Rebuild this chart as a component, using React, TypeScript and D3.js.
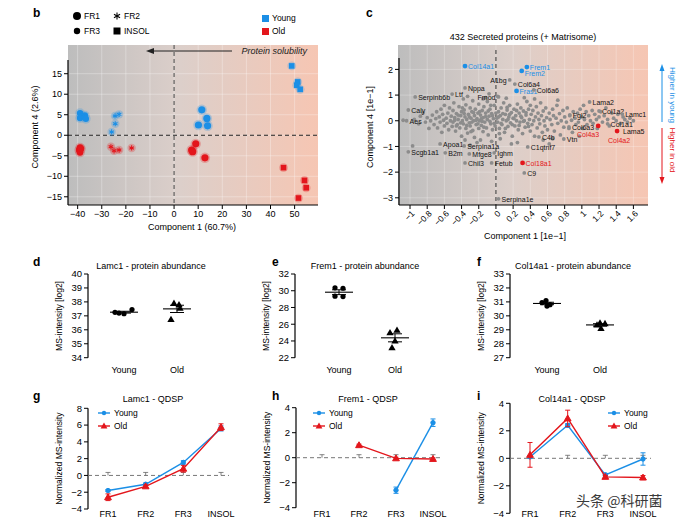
import React from 'react';
import * as d3 from 'd3';

const FONT = '"Liberation Sans", Arial, Helvetica, sans-serif';
const BLUE = '#1b8fe6';
const RED = '#e3161c';
const GRAYPT = '#8c8c8c';
const fmtMinus = (v: number | string) => String(v).replace('-', '\u2212');

// ---------------- Panel b data ----------------
const bXTicks = [-40, -30, -20, -10, 0, 10, 20, 30, 40, 50];
const bYTicks = [-15, -10, -5, 0, 5, 10, 15];
const bYoungFR1 = [[-39, 5.4], [-37, 4.8], [-39, 4.2], [-36.6, 4.0]];
const bOldFR1 = [[-39, -3.0], [-39.4, -3.6], [-39, -4.2], [-38.6, -3.3]];
const bYoungFR2 = [[-24.5, 4.7], [-22.8, 5.1], [-24.4, 2.8], [-25.9, 0.8]];
const bOldFR2 = [[-26.2, -2.8], [-24.9, -3.8], [-22.8, -3.6], [-17.6, -3.1]];
const bYoungFR3 = [[11.5, 6.2], [13.6, 4.1], [10.1, 2.5], [13.9, 2.3]];
const bOldFR3 = [[9, -2.1], [7.3, -3.6], [7.7, -4.0], [12.8, -5.5]];
const bYoungINSOL = [[48.8, 16.9], [51.3, 13.0], [50.9, 12.2], [52.3, 11.2]];
const bOldINSOL = [[45.4, -7.9], [54.1, -11.0], [54.8, -12.8], [51.6, -15.3]];

// ---------------- Panel c data ----------------
const cXTicks = [-1, -0.8, -0.6, -0.4, -0.2, 0, 0.2, 0.4, 0.6, 0.8, 1, 1.2, 1.4, 1.6];
const cYTicks = [-3, -2, -1, 0, 1, 2];
const cCloud: number[][] = [
  [-1.08, 0.02], [-0.95, 0.05], [-0.9, -0.12], [-0.88, 0.18], [-0.85, 0.3], [-0.82, -0.05], [-0.8, 0.12], [-0.97, -0.98], [-0.78, -0.3],
  [-0.76, 0.0], [-0.74, 0.22], [-0.72, -0.15], [-0.7, 0.08], [-0.69, 0.35], [-0.68, -0.28], [-0.66, 0.15], [-0.65, -0.05], [-0.64, 0.45],
  [-0.63, -0.45], [-0.62, 0.25], [-0.61, 0.02], [-0.6, -0.2], [-0.6, 0.6],
  [-0.58, 0.1], [-0.57, -0.1], [-0.56, 0.3], [-0.55, -0.35], [-0.54, 0.5], [-0.53, 0.0], [-0.52, 0.18], [-0.51, -0.22], [-0.5, 0.4],
  [-0.5, -0.05], [-0.49, 0.7], [-0.48, 0.12], [-0.47, -0.4], [-0.46, 0.28], [-0.45, -0.15], [-0.44, 0.05], [-0.43, 0.55], [-0.42, -0.28],
  [-0.41, 0.2], [-0.4, -0.6], [-0.4, 0.35],
  [-0.39, 0.0], [-0.38, -0.12], [-0.37, 0.42], [-0.36, 0.15], [-0.35, -0.3], [-0.35, 0.62], [-0.34, 0.05], [-0.33, -0.48], [-0.32, 0.25],
  [-0.31, -0.08], [-0.3, 0.5], [-0.3, -0.2], [-0.29, 0.1], [-0.28, 0.35], [-0.27, -0.38], [-0.26, 0.0], [-0.25, 0.2], [-0.25, -0.65],
  [-0.24, 0.45], [-0.23, -0.15], [-0.22, 0.08], [-0.21, 0.3], [-0.2, -0.3], [-0.2, 0.65], [-0.38, 0.85], [-0.33, 0.95], [-0.27, 0.78],
  [-0.22, -0.85], [-0.36, -0.75], [-0.3, -0.95],
  [-0.19, 0.0], [-0.18, 0.22], [-0.17, -0.18], [-0.16, 0.4], [-0.15, -0.42], [-0.15, 0.12], [-0.14, 0.55], [-0.13, -0.05], [-0.12, 0.3],
  [-0.11, -0.28], [-0.1, 0.05], [-0.1, 0.75], [-0.09, -0.55], [-0.08, 0.18], [-0.07, 0.45], [-0.06, -0.12], [-0.05, 0.28], [-0.04, -0.35],
  [-0.03, 0.08], [-0.02, 0.6], [-0.01, -0.2], [-0.18, -0.75], [-0.12, 0.9], [-0.05, -0.8], [-0.15, 0.85], [-0.08, 1.05],
  [0.01, 0.1], [0.02, -0.05], [0.03, 0.35], [0.04, -0.3], [0.05, 0.2], [0.06, 0.5], [0.07, -0.15], [0.08, 0.05], [0.09, 0.7], [0.1, -0.45],
  [0.11, 0.25], [0.12, 0.0], [0.13, 0.42], [0.14, -0.22], [0.15, 0.15], [0.16, 0.6], [0.17, -0.08], [0.18, 0.32], [0.19, -0.6], [0.2, 0.1],
  [0.05, -0.7], [0.12, 0.88], [0.18, -0.9], [0.02, 0.95],
  [0.21, 0.45], [0.22, -0.2], [0.23, 0.2], [0.24, 0.0], [0.25, 0.65], [0.26, -0.35], [0.27, 0.3], [0.28, -0.05], [0.29, 0.5], [0.3, 0.12],
  [0.31, -0.5], [0.32, 0.38], [0.33, 0.0], [0.34, -0.25], [0.35, 0.22], [0.36, 0.75], [0.37, -0.1], [0.38, 0.45], [0.39, 0.05], [0.4, -0.4],
  [0.25, -0.85], [0.33, 0.9], [0.4, 0.6],
  [0.41, 0.25], [0.42, -0.15], [0.43, 0.4], [0.44, 0.0], [0.45, -0.6], [0.46, 0.15], [0.47, 0.55], [0.48, -0.28], [0.49, 0.3], [0.5, 0.05],
  [0.51, -0.12], [0.52, 0.7], [0.53, 0.2], [0.54, -0.45], [0.55, 0.38], [0.56, 0.0], [0.57, -0.2], [0.58, 0.5], [0.59, 0.12], [0.6, -0.35],
  [0.45, 0.85], [0.55, -0.75], [0.62, -0.9],
  [0.62, 0.3], [0.63, 0.05], [0.65, -0.15], [0.66, 0.45], [0.67, 0.2], [0.68, -0.4], [0.7, 0.1], [0.71, 0.6], [0.72, -0.1], [0.74, 0.28],
  [0.75, -0.55], [0.76, 0.0], [0.78, 0.4], [0.79, -0.25], [0.8, 0.15], [0.82, -0.05], [0.83, 0.5], [0.85, -0.3], [0.86, 0.2], [0.88, 0.02],
  [0.89, -0.45], [0.9, 0.35], [0.72, 0.8], [0.66, -0.7],
  [0.92, 0.1], [0.93, -0.15], [0.95, 0.3], [0.96, -0.05], [0.98, 0.45], [1.0, 0.15], [1.01, -0.3], [1.03, 0.05], [1.05, 0.35], [1.06, -0.15],
  [1.08, 0.2], [1.1, 0.0], [1.12, 0.4], [1.13, -0.1], [1.15, 0.25], [1.17, 0.05], [1.18, -0.3], [1.2, 0.15], [1.02, 0.6], [0.97, -0.6],
  [1.22, 0.35], [1.24, -0.05], [1.26, 0.2], [1.28, 0.5], [1.3, 0.05], [1.32, -0.2], [1.35, 0.3], [1.37, 0.1], [1.4, 0.0], [1.42, 0.25],
  [1.45, -0.1], [1.48, 0.15], [1.5, 0.05], [1.53, -0.05], [1.56, 0.1], [1.6, 0.0],
  [-0.48, 0.02], [-0.44, 0.22], [-0.41, -0.08], [-0.37, 0.28], [-0.34, -0.18], [-0.31, 0.15], [-0.28, -0.05], [-0.26, 0.32], [-0.23, 0.02],
  [-0.21, -0.12], [-0.19, 0.35], [-0.17, 0.08], [-0.14, -0.25], [-0.12, 0.16], [-0.09, 0.38], [-0.07, -0.02], [-0.04, 0.2], [-0.02, -0.1],
  [0.0, 0.3], [0.03, 0.15], [0.06, -0.1], [0.08, 0.28], [0.11, -0.3], [0.14, 0.05], [0.16, 0.25], [0.19, -0.15], [0.21, 0.08], [0.24, 0.4],
  [0.27, -0.18], [0.29, 0.18], [0.32, -0.02], [0.35, 0.32], [0.38, -0.22], [-0.46, -0.2], [-0.39, 0.5], [-0.29, -0.42], [-0.16, -0.02],
  [-0.06, 0.6], [0.04, -0.5], [0.13, 0.52],
];
// [name, x, y, group]
const cLabels: [string, number, number, string][] = [
  ['Col14a1', -0.36, 2.13, 'young'], ['Frem1', 0.36, 2.09, 'young'], ['Frem2', 0.30, 1.94, 'young'], ['Fras1', 0.24, 1.16, 'young'],
  ['A1bg', 0.16, 1.59, 'ns'], ['Col6a4', 0.22, 1.43, 'ns'], ['Col6a6', 0.44, 1.20, 'ns'], ['Nppa', -0.36, 1.28, 'ns'],
  ['Ltf', -0.51, 1.04, 'ns'], ['Serpinb6b', -0.94, 0.93, 'ns'], ['Fmod', 0.03, 0.93, 'ns'], ['Caly', -1.02, 0.42, 'ns'],
  ['Aes', -1.04, 0.0, 'ns'], ['Scgb1a1', -1.02, -1.21, 'ns'], ['Apoa1', -0.65, -0.9, 'ns'], ['B2m', -0.59, -1.25, 'ns'],
  ['Serpina1a', -0.37, -0.98, 'ns'], ['Mfge8', -0.31, -1.29, 'ns'], ['Ighm', -0.02, -1.25, 'ns'], ['Chil3', -0.36, -1.64, 'ns'],
  ['Fetub', -0.05, -1.64, 'ns'], ['C9', 0.33, -2.03, 'ns'], ['Serpina1e', 0.03, -3.04, 'ns'], ['C4b', 0.5, -0.63, 'ns'],
  ['C1qtnf7', 0.37, -1.02, 'ns'], ['Vtn', 0.79, -0.71, 'ns'], ['Lama2', 1.09, 0.73, 'ns'], ['Col1a2', 1.2, 0.38, 'ns'],
  ['Lamc1', 1.47, 0.26, 'ns'], ['Fgl2', 0.86, 0.23, 'ns'], ['Col6a3', 0.85, -0.24, 'ns'], ['Col1a1', 1.3, -0.12, 'ns'],
  ['Lama5', 1.41, -0.4, 'ns'], ['Col4a3', 1.19, -0.2, 'old'], ['Col4a2', 1.41, -0.4, 'old'], ['Col18a1', 0.31, -1.64, 'old'],
];
const cLabelLayout: Record<string, [number, number, string]> = {
  A1bg: [-3, 3, 'end'], Fmod: [-3, 3, 'end'], Col4a3: [1, 11, 'end'], Col4a2: [2, 12, 'middle'], Frem2: [3, 5, 'start'], Lama5: [6, 3, 'start'],
};

// ---------------- Panels d-f data ----------------
const abCats = ['Young', 'Old'];
const lamc1Young = [37.25, 37.2, 37.15, 37.45];
const lamc1Old = [37.9, 37.8, 37.55, 36.75];
const frem1Young = [30.35, 30.3, 29.35, 29.3];
const frem1Old = [25.3, 25.0, 24.0, 23.2];
const col14Young = [31.1, 30.95, 30.8, 30.7];
const col14Old = [29.5, 29.45, 29.35, 29.1];
const dTicks = [34, 35, 36, 37, 38, 39, 40];
const eTicks = [22, 24, 26, 28, 30, 32];
const fTicks = [27, 28, 29, 30, 31, 32, 33];

// ---------------- Panels g-i data ----------------
const qCats = ['FR1', 'FR2', 'FR3', 'INSOL'];
const gYoung = [-1.8, -1.05, 1.55, 5.6];
const gYoungErr = [0.12, 0.15, 0.2, 0.3];
const gOld = [-2.6, -1.3, 0.8, 5.75];
const gOldErr = [0.4, 0.15, 0.4, 0.4];
const hYoung = [null, null, -2.6, 2.8];
const hYoungErr = [0, 0, 0.25, 0.3];
const hOld = [null, 1.0, -0.05, -0.1];
const hOldErr = [0, 0.08, 0.08, 0.08];
const iYoung = [0.1, 2.4, -1.2, -0.05];
const iYoungErr = [0.1, 0.12, 0.1, 0.45];
const iOld = [0.25, 2.9, -1.35, -1.4];
const iOldErr = [0.9, 0.6, 0.1, 0.15];
const gTicks = [-4, -2, 0, 2, 4, 6, 8];
const hTicks = [-4, -2, 0, 2, 4];
const iTicks = [-4, -2, 0, 2, 4];

// ---------------- helpers ----------------
function YAxis({ scale, ticks, x, fs = 9, top, bottom }: any) {
  const t0 = top ?? scale(d3.max(ticks as number[]));
  const t1 = bottom ?? scale(d3.min(ticks as number[]));
  return (
    <g>
      <line x1={x} x2={x} y1={t0} y2={t1} stroke="#000" strokeWidth={1.2} />
      {ticks.map((t: number) => (
        <g key={t}>
          <line x1={x - 4} x2={x} y1={scale(t)} y2={scale(t)} stroke="#000" strokeWidth={1} />
          <text x={x - 6} y={scale(t)} dy="0.35em" textAnchor="end" fontSize={fs}>{fmtMinus(t)}</text>
        </g>
      ))}
    </g>
  );
}

function Marker({ shape, cx, cy, color, size = 3 }: any) {
  if (shape === 'circle') return <circle cx={cx} cy={cy} r={size} fill={color} />;
  if (shape === 'square') return <rect x={cx - size} y={cy - size} width={size * 2} height={size * 2} fill={color} />;
  if (shape === 'triangle') {
    const p = d3.symbol(d3.symbolTriangle, size * size * 3.2)();
    return <path d={p as string} transform={`translate(${cx},${cy + size * 0.2})`} fill={color} />;
  }
  if (shape === 'asterisk') {
    const a = [0, 60, 120];
    return (
      <g transform={`translate(${cx},${cy})`} stroke={color} strokeWidth={1.1}>
        {a.map((ang) => {
          const r = (ang * Math.PI) / 180;
          return <line key={ang} x1={-size * Math.sin(r)} y1={-size * Math.cos(r)} x2={size * Math.sin(r)} y2={size * Math.cos(r)} />;
        })}
      </g>
    );
  }
  return null;
}

function PanelB() {
  const x = d3.scaleLinear().domain([-44, 59.7]).range([68, 318]);
  const y = d3.scaleLinear().domain([-17, 22]).range([205, 45]);
  const groups: [number[][], string, string, number][] = [
    [bYoungFR1, 'circle', BLUE, 3.2], [bOldFR1, 'circle', RED, 3.2],
    [bYoungFR2, 'asterisk', BLUE, 2.6], [bOldFR2, 'asterisk', RED, 2.6],
    [bYoungFR3, 'circle', BLUE, 3.6], [bOldFR3, 'circle', RED, 3.6],
    [bYoungINSOL, 'square', BLUE, 2.8], [bOldINSOL, 'square', RED, 2.8],
  ];
  return (
    <g>
      <text x={33} y={17} fontSize={12} fontWeight="bold">b</text>
      <circle cx={77} cy={16} r={4} fill="#000" />
      <text x={84} y={16} dy="0.35em" fontSize={8.5}>FR1</text>
      <Marker shape="asterisk" cx={117} cy={16} color="#000" size={3.5} />
      <text x={124} y={16} dy="0.35em" fontSize={8.5}>FR2</text>
      <circle cx={77} cy={31} r={3.2} fill="#000" />
      <text x={84} y={31} dy="0.35em" fontSize={8.5}>FR3</text>
      <rect x={113.5} y={27.5} width={7} height={7} fill="#000" />
      <text x={124} y={31} dy="0.35em" fontSize={8.5}>INSOL</text>
      <rect x={262} y={15} width={7} height={7} fill={BLUE} />
      <text x={272} y={18.5} dy="0.35em" fontSize={8.5}>Young</text>
      <rect x={262} y={28} width={7} height={7} fill={RED} />
      <text x={272} y={31.5} dy="0.35em" fontSize={8.5}>Old</text>
      <rect x={68} y={45} width={250} height={160} fill="url(#bgGrad)" />
      {bXTicks.map((t) => (
        <line key={'gx' + t} x1={x(t)} x2={x(t)} y1={45} y2={205} stroke="#fff" strokeOpacity={0.3} />
      ))}
      {bYTicks.map((t) => (
        <line key={'gy' + t} x1={68} x2={318} y1={y(t)} y2={y(t)} stroke="#fff" strokeOpacity={0.3} />
      ))}
      <line x1={68} x2={318} y1={y(0)} y2={y(0)} stroke="#222" strokeDasharray="4,3" />
      <line x1={x(0)} x2={x(0)} y1={45} y2={205} stroke="#444" strokeDasharray="4,3" />
      <line x1={232} x2={152} y1={51} y2={51} stroke="#222" strokeWidth={1.2} />
      <path d="M146,51 L154,48 L154,54 Z" fill="#222" />
      <text x={307} y={51} dy="0.35em" textAnchor="end" fontSize={9} fontStyle="italic" fill="#222">Protein solubility</text>
      {groups.map(([pts, shape, color, s], gi) => (
        <g key={gi}>
          {pts.map((p, i) => (
            <g key={i}>
              <circle cx={x(p[0])} cy={y(p[1])} r={s + 1.6} fill={color} opacity={0.25} />
              <Marker shape={shape} cx={x(p[0])} cy={y(p[1])} color={color} size={s} />
            </g>
          ))}
        </g>
      ))}
      <YAxis scale={y} ticks={bYTicks} x={68} top={60} bottom={205} />
      <line x1={68} x2={318} y1={205} y2={205} stroke="#000" strokeWidth={1.2} />
      {bXTicks.map((t) => (
        <g key={'xt' + t}>
          <line x1={x(t)} x2={x(t)} y1={205} y2={209} stroke="#000" />
          <text x={x(t)} y={217} textAnchor="middle" fontSize={9}>{fmtMinus(t)}</text>
        </g>
      ))}
      <text x={192} y={230} textAnchor="middle" fontSize={9}>Component 1 (60.7%)</text>
      <text transform="translate(38,127) rotate(-90)" textAnchor="middle" fontSize={9}>Component 4 (2.6%)</text>
    </g>
  );
}

function PanelC() {
  const x = d3.scaleLinear().domain([-1.14, 1.77]).range([398, 648]);
  const y = d3.scaleLinear().domain([-3.28, 2.95]).range([205, 45]);
  const colorOf = (g: string) => (g === 'young' ? BLUE : g === 'old' ? RED : '#111');
  return (
    <g>
      <text x={366} y={17} fontSize={12} fontWeight="bold">c</text>
      <text x={523} y={40} textAnchor="middle" fontSize={9}>432 Secreted proteins (+ Matrisome)</text>
      <rect x={398} y={45} width={250} height={160} fill="url(#bgGrad)" />
      {cXTicks.map((t) => (
        <line key={'gx' + t} x1={x(t)} x2={x(t)} y1={45} y2={205} stroke="#fff" strokeOpacity={0.25} />
      ))}
      {cYTicks.map((t) => (
        <line key={'gy' + t} x1={398} x2={648} y1={y(t)} y2={y(t)} stroke="#fff" strokeOpacity={0.25} />
      ))}
      <line x1={x(0)} x2={x(0)} y1={50} y2={205} stroke="#333" strokeDasharray="4,3" />
      {cCloud.map((p, i) => (
        <circle key={i} cx={x(p[0])} cy={y(p[1])} r={1.9} fill={GRAYPT} />
      ))}
      {cLabels.map(([name, px, py, g]) => {
        const lay = cLabelLayout[name] || [3, 3, 'start'];
        const col = colorOf(g);
        const r = g === 'ns' ? 1.9 : 2.4;
        return (
          <g key={name}>
            <circle cx={x(px)} cy={y(py)} r={r} fill={g === 'ns' ? GRAYPT : col} />
            <text x={x(px) + lay[0]} y={y(py) + lay[1]} textAnchor={lay[2] as any} fontSize={7} fill={col}>{name}</text>
          </g>
        );
      })}
      <YAxis scale={y} ticks={cYTicks} x={399} top={58} bottom={205} />
      <line x1={399} x2={648} y1={205} y2={205} stroke="#000" strokeWidth={1.2} />
      {cXTicks.map((t) => (
        <g key={'xt' + t}>
          <line x1={x(t)} x2={x(t)} y1={205} y2={209} stroke="#000" />
          <text transform={`translate(${x(t) + 3},${212}) rotate(-45)`} textAnchor="end" dy="0.35em" fontSize={8.5}>{fmtMinus(t)}</text>
        </g>
      ))}
      <text x={525} y={239} textAnchor="middle" fontSize={9}>Component 1 [1e{'\u2212'}1]</text>
      <text transform="translate(373,127) rotate(-90)" textAnchor="middle" fontSize={9}>Component 4 [1e{'\u2212'}1]</text>
      <line x1={662} x2={662} y1={122} y2={70} stroke={BLUE} strokeWidth={1} />
      <path d="M662,64 L659.5,71 L664.5,71 Z" fill={BLUE} />
      <text transform="translate(673,95) rotate(90)" textAnchor="middle" dy="0.35em" fontSize={8} fill={BLUE}>Higher in young</text>
      <line x1={662} x2={662} y1={128} y2={178} stroke={RED} strokeWidth={1} />
      <path d="M662,184 L659.5,177 L664.5,177 Z" fill={RED} />
      <text transform="translate(673,150) rotate(90)" textAnchor="middle" dy="0.35em" fontSize={8} fill={RED}>Higher in old</text>
    </g>
  );
}

function AbundancePanel({ letter, letterX, title, titleX, axisX, catX, domain, ticks, young, old, offY, offO }: any) {
  const y = d3.scaleLinear().domain(domain).range([357.7, 274]);
  const xc = d3.scalePoint().domain(abCats).range(catX);
  const series = [[young, 'circle', offY], [old, 'triangle', offO]];
  return (
    <g>
      <text x={letterX} y={266} fontSize={12} fontWeight="bold">{letter}</text>
      <text x={titleX} y={269} textAnchor="middle" fontSize={9}>{title}</text>
      <YAxis scale={y} ticks={ticks} x={axisX} fs={9.5} />
      <text transform={`translate(${axisX - 26},316) rotate(-90)`} textAnchor="middle" fontSize={8.5}>MS-intensity [log2]</text>
      {series.map(([vals, shape, offs]: any, si) => {
        const cx = xc(abCats[si]) as number;
        const m = d3.mean(vals as number[]) as number;
        const sem = (d3.deviation(vals as number[]) as number) / Math.sqrt(vals.length);
        return (
          <g key={si}>
            {vals.map((v: number, i: number) => (
              <Marker key={i} shape={shape} cx={cx + offs[i]} cy={y(v)} color="#000" size={shape === 'circle' ? 2.6 : 2.7} />
            ))}
            <line x1={cx - 14} x2={cx + 14} y1={y(m)} y2={y(m)} stroke="#000" strokeWidth={1.1} />
            <line x1={cx} x2={cx} y1={y(m + sem)} y2={y(m - sem)} stroke="#000" strokeWidth={1} />
            <line x1={cx - 7} x2={cx + 7} y1={y(m + sem)} y2={y(m + sem)} stroke="#000" strokeWidth={1} />
            <line x1={cx - 7} x2={cx + 7} y1={y(m - sem)} y2={y(m - sem)} stroke="#000" strokeWidth={1} />
            <text x={cx} y={373} textAnchor="middle" fontSize={9}>{abCats[si]}</text>
          </g>
        );
      })}
    </g>
  );
}

function QdspPanel({ letter, letterX, title, titleX, axisX, catRange, yRange, domain, ticks, young, youngErr, old, oldErr, legendX }: any) {
  const y = d3.scaleLinear().domain(domain).range(yRange);
  const xc = d3.scalePoint().domain(qCats).range(catRange);
  const line = d3.line<any>().defined((d) => d.v !== null).x((d) => xc(d.c) as number).y((d) => y(d.v));
  const mk = (vals: any[], errs: number[]) => vals.map((v, i) => ({ c: qCats[i], v, e: errs[i] }));
  const series = [
    { data: mk(young, youngErr), color: BLUE, shape: 'circle', name: 'Young' },
    { data: mk(old, oldErr), color: RED, shape: 'triangle', name: 'Old' },
  ];
  const y0 = y(0);
  const xEnd = (xc('INSOL') as number) + 8;
  return (
    <g>
      <text x={letterX} y={400} fontSize={12} fontWeight="bold">{letter}</text>
      <text x={titleX} y={402} textAnchor="middle" fontSize={9}>{title}</text>
      <YAxis scale={y} ticks={ticks} x={axisX} fs={9.5} />
      <text transform={`translate(${axisX - 26},${(yRange[0] + yRange[1]) / 2}) rotate(-90)`} textAnchor="middle" fontSize={8.5}>Normalized MS-intensity</text>
      <line x1={axisX} x2={xEnd} y1={y0} y2={y0} stroke="#777" strokeDasharray="4,3" strokeWidth={1} />
      {qCats.map((c) => (
        <g key={'t' + c} stroke="#666" strokeWidth={0.8}>
          <line x1={(xc(c) as number) - 2.5} x2={(xc(c) as number) + 2.5} y1={y0 - 3} y2={y0 - 3} />
          <line x1={xc(c) as number} x2={xc(c) as number} y1={y0 - 3} y2={y0} />
        </g>
      ))}
      {series.map((s) => (
        <g key={s.name}>
          <path d={line(s.data) as string} fill="none" stroke={s.color} strokeWidth={1.4} />
          {s.data.filter((d) => d.v !== null).map((d) => {
            const cx = xc(d.c) as number;
            return (
              <g key={d.c} stroke={s.color} strokeWidth={1}>
                <line x1={cx} x2={cx} y1={y(d.v + d.e)} y2={y(d.v - d.e)} />
                <line x1={cx - 2.5} x2={cx + 2.5} y1={y(d.v + d.e)} y2={y(d.v + d.e)} />
                <line x1={cx - 2.5} x2={cx + 2.5} y1={y(d.v - d.e)} y2={y(d.v - d.e)} />
                <Marker shape={s.shape} cx={cx} cy={y(d.v)} color={s.color} size={s.shape === 'circle' ? 2.2 : 2.5} />
              </g>
            );
          })}
        </g>
      ))}
      {series.map((s, i) => (
        <g key={'lg' + s.name}>
          <line x1={legendX} x2={legendX + 12} y1={413 + i * 13} y2={413 + i * 13} stroke={s.color} strokeWidth={1.4} />
          <Marker shape={s.shape} cx={legendX + 6} cy={413 + i * 13} color={s.color} size={s.shape === 'circle' ? 2.2 : 2.5} />
          <text x={legendX + 16} y={413 + i * 13} dy="0.35em" fontSize={8.5}>{s.name}</text>
        </g>
      ))}
      {qCats.map((c) => (
        <text key={'xl' + c} x={xc(c) as number} y={517} textAnchor="middle" fontSize={9}>{c}</text>
      ))}
    </g>
  );
}

export default function App() {
  return (
    <svg width={700} height={518} style={{ position: 'absolute', left: 0, top: 0, background: '#fff' }} fontFamily={FONT}>
      <defs>
        <linearGradient id="bgGrad" x1="0" x2="1" y1="0" y2="0">
          <stop offset="0%" stopColor="#bdbdbd" />
          <stop offset="45%" stopColor="#dccfca" />
          <stop offset="100%" stopColor="#f6c6b3" />
        </linearGradient>
      </defs>
      <rect x={0} y={0} width={700} height={518} fill="#fff" />
      <PanelB />
      <PanelC />
      <AbundancePanel letter="d" letterX={33} title="Lamc1 - protein abundance" titleX={151} axisX={88} catX={[124, 177]} domain={[34, 40]} ticks={dTicks} young={lamc1Young} old={lamc1Old} offY={[-9, -5, 0, 8]} offO={[-3, 2, 3, -6]} />
      <AbundancePanel letter="e" letterX={272} title="Frem1 - protein abundance" titleX={365} axisX={295} catX={[339, 395]} domain={[22, 32]} ticks={eTicks} young={frem1Young} old={frem1Old} offY={[-4, 4, -4, 4]} offO={[2, -5, 0, -3]} />
      <AbundancePanel letter="f" letterX={477} title="Col14a1 - protein abundance" titleX={573} axisX={510} catX={[547, 600]} domain={[27, 33]} ticks={fTicks} young={col14Young} old={col14Old} offY={[-1, -5, 3, 0]} offO={[0, 5, -3, 1]} />
      <QdspPanel letter="g" letterX={33} title="Lamc1 - QDSP" titleX={153} axisX={88} catRange={[108, 221]} yRange={[509, 408.3]} domain={[-4, 8]} ticks={gTicks} young={gYoung} youngErr={gYoungErr} old={gOld} oldErr={gOldErr} legendX={98} />
      <QdspPanel letter="h" letterX={272} title="Frem1 - QDSP" titleX={368} axisX={296} catRange={[322, 433]} yRange={[507.7, 407.7]} domain={[-4, 4]} ticks={hTicks} young={hYoung} youngErr={hYoungErr} old={hOld} oldErr={hOldErr} legendX={313} />
      <QdspPanel letter="i" letterX={477} title="Col14a1 - QDSP" titleX={572} axisX={510} catRange={[530, 643]} yRange={[513.3, 403.3]} domain={[-4, 4]} ticks={iTicks} young={iYoung} youngErr={iYoungErr} old={iOld} oldErr={iOldErr} legendX={608} />
      <text x={576} y={501} dy="0.35em" fontSize={14} fill="#3a3a3a" stroke="#fff" strokeWidth={2} paintOrder="stroke" fontFamily='"Noto Sans CJK SC", sans-serif'>头条 @科研菌</text>
    </svg>
  );
}
